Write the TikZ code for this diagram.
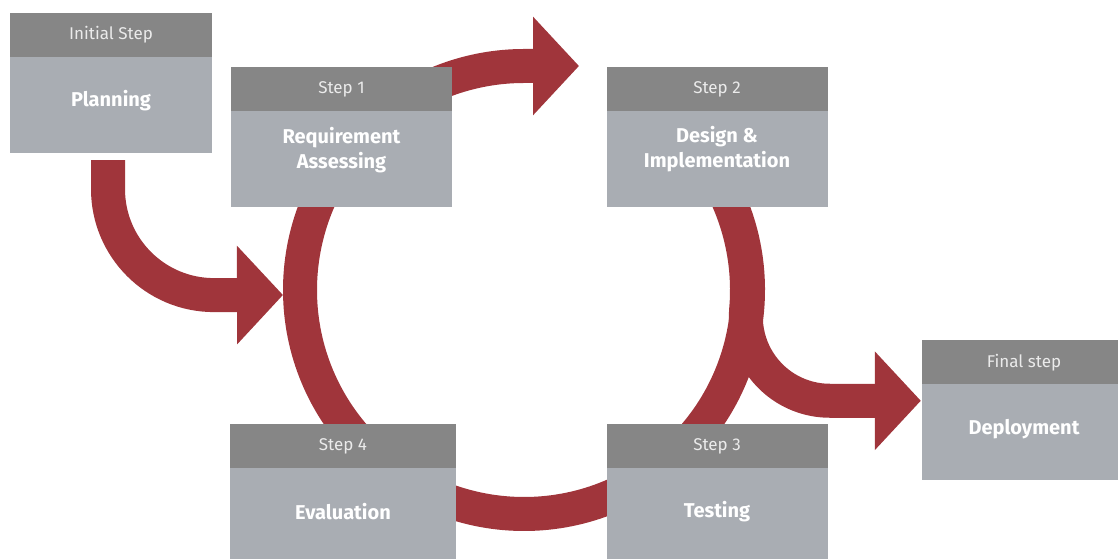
\documentclass[tikz,border=0pt]{standalone}
\usepackage{fontspec}
\setmainfont{Fira Sans}
\usetikzlibrary{positioning,arrows.meta,backgrounds}

\definecolor{headgray}{HTML}{868686}
\definecolor{bodygray}{HTML}{A9ADB3}
\definecolor{flowred}{HTML}{A0353B}

\tikzset{
  stephead/.style={fill=headgray, text=white!92!black, minimum width=221pt,
    minimum height=44pt, inner sep=0pt, font=\fontsize{17}{20}\selectfont},
  stepbody/.style={fill=bodygray, minimum width=221pt, minimum height=96pt, inner sep=0pt},
  steptitle/.style={text=white, align=center, font=\fontsize{20}{25}\selectfont\bfseries},
  flow/.style={draw=flowred, line width=34pt, -{Triangle[length=46pt,width=96pt]}}
}

\begin{document}
\begin{tikzpicture}[x=1pt,y=1pt]
\useasboundingbox (0,0) rectangle (1118,559);

% Initial step
\node[stephead, minimum width=202pt] (plan-head) at (111,524) {Initial Step};
\node[stepbody, minimum width=202pt, below=-0.5pt of plan-head] (plan) {};
\node[steptitle] (plan-title) at ([yshift=-44pt]plan.north) {Planning};

% Step 1
\node[stephead] (req-head) at (341.5,469.5) {Step 1};
\node[stepbody, below=-0.5pt of req-head] (req) {};
\node[steptitle] (req-title) at ([yshift=-39pt]req.north) {Requirement\\Assessing};

% Step 2
\node[stephead] (design-head) at (717,469.5) {Step 2};
\node[stepbody, below=-0.5pt of design-head] (design) {};
\node[steptitle] (design-title) at ([yshift=-38pt]design.north) {Design \&\\Implementation};

% Step 3
\node[stephead] (test-head) at (717,113) {Step 3};
\node[stepbody, below=-0.5pt of test-head] (test) {};
\node[steptitle] (test-title) at ([yshift=-44pt]test.north) {Testing};

% Step 4
\node[stephead, minimum width=226pt] (eval-head) at (343,113) {Step 4};
\node[stepbody, minimum width=226pt, below=-0.5pt of eval-head] (eval) {};
\node[steptitle] (eval-title) at ([yshift=-44pt]eval.north) {Evaluation};

% Final step
\node[stephead, minimum width=204pt] (deploy-head) at (1024,196.5) {Final step};
\node[stepbody, minimum width=204pt, below=-0.5pt of deploy-head] (deploy) {};
\node[steptitle] (deploy-title) at ([yshift=-45pt]deploy.north) {Deployment};

% red arrows behind the boxes
\begin{scope}[on background layer]
\coordinate (ring-c) at (524,269);
\draw[flow] ([shift={(40:224)}]ring-c) arc[start angle=40, end angle=-270, radius=224]
  -- ([xshift=55pt,yshift=224pt]ring-c);
\draw[flow] ([xshift=-3pt,yshift=-7pt]plan.south) -- ++(0,-29)
  arc[start angle=180, end angle=270, radius=106] -- ([xshift=-241pt,yshift=-5pt]ring-c);
\draw[flow] ([shift={(30:223)}]ring-c) arc[start angle=30, end angle=-5, radius=223]
  arc[start angle=175, end angle=270, radius=84] -- ++(91,0);
\end{scope}
\end{tikzpicture}
\end{document}
